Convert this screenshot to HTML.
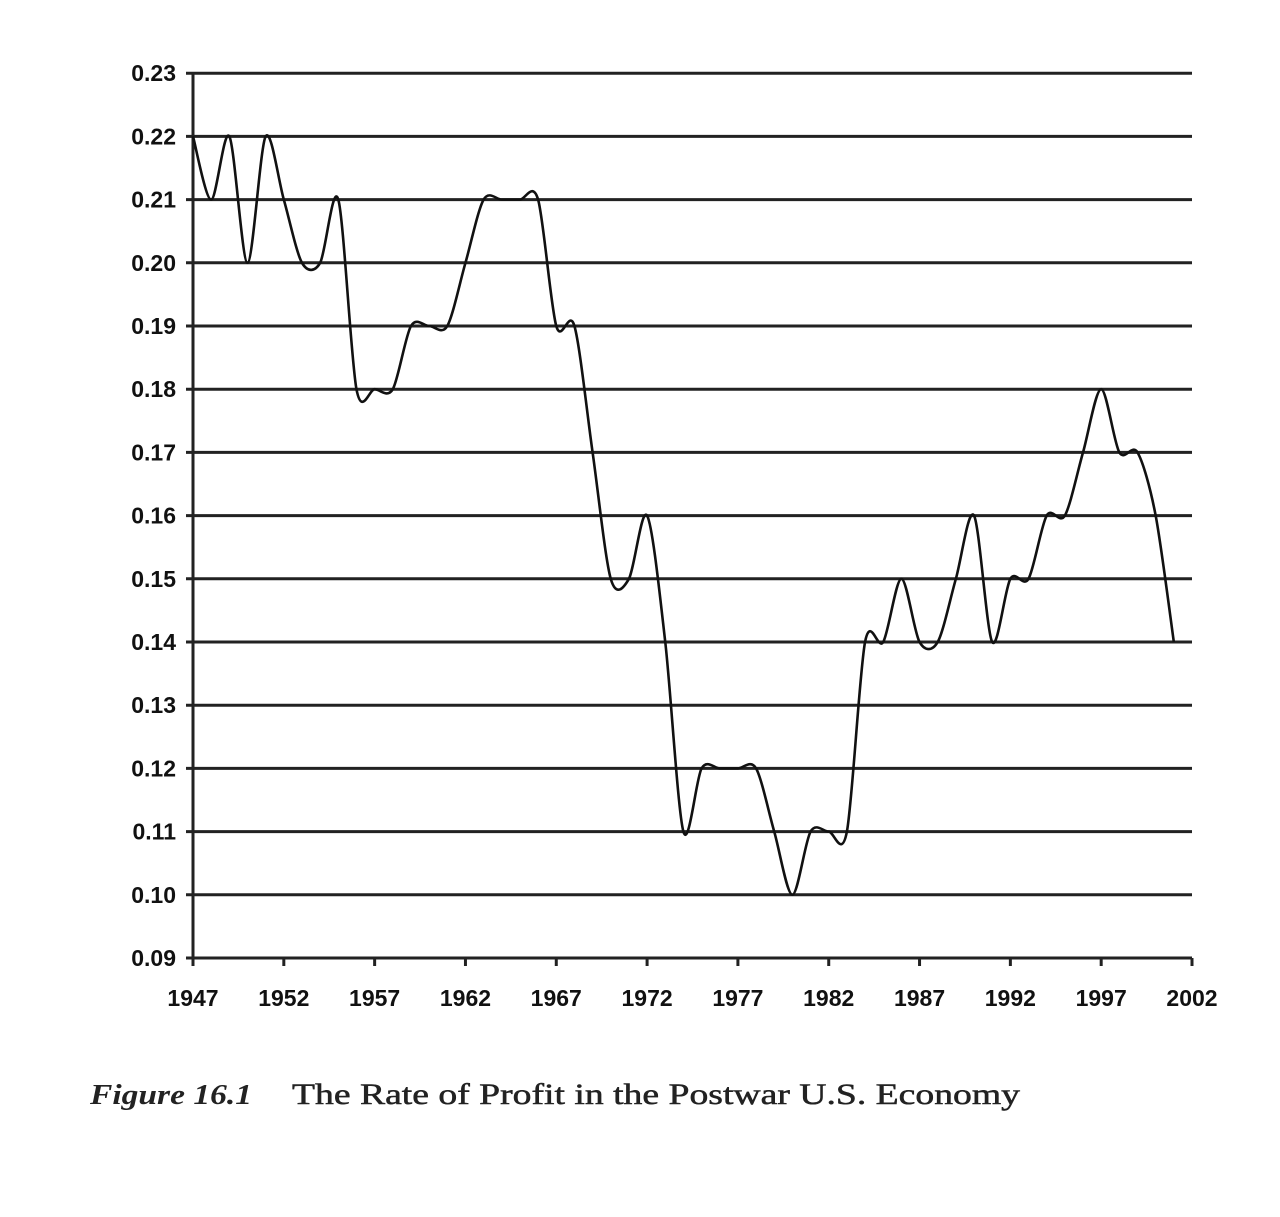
<!DOCTYPE html>
<html><head><meta charset="utf-8"><style>
html,body{margin:0;padding:0;background:#fff;}
svg{display:block}
</style></head><body>
<svg id="s" width="1280" height="1217" xmlns="http://www.w3.org/2000/svg">
<g id="grid" stroke="#222" stroke-width="3"></g>
<g id="ylab" font-family="Liberation Sans, sans-serif" font-size="23" font-weight="bold" fill="#111" text-anchor="end"></g>
<g id="xlab" font-family="Liberation Sans, sans-serif" font-size="23" font-weight="bold" fill="#111" text-anchor="middle"></g>
<path id="line" fill="none" stroke="#111" stroke-width="2.6"/>
<text x="90" y="1104" font-family="Liberation Serif, serif" font-size="28" font-style="italic" font-weight="bold" fill="#222" textLength="162" lengthAdjust="spacingAndGlyphs">Figure 16.1</text>
<text x="292" y="1104" font-family="Liberation Serif, serif" font-size="30" fill="#222" stroke="#222" stroke-width="0.5" textLength="728" lengthAdjust="spacingAndGlyphs">The Rate of Profit in the Postwar U.S. Economy</text>
</svg>
<script>
var ns="http://www.w3.org/2000/svg";
function yv(v){return 958-(v-0.09)/0.01*63.2;}
function xv(yr){return 193+(yr-1947)*(999/55);}
var g=document.getElementById('grid'),yl=document.getElementById('ylab'),xl=document.getElementById('xlab');
function el(p,t,a){var e=document.createElementNS(ns,t);for(var k in a)e.setAttribute(k,a[k]);p.appendChild(e);return e;}
for(var i=0;i<=14;i++){var v=0.09+i*0.01,y=yv(v);
 el(g,'line',{x1:186,x2:1192,y1:y,y2:y});
 var t=el(yl,'text',{x:176,y:y+8});t.textContent=v.toFixed(2);}
el(g,'line',{x1:193,x2:193,y1:73,y2:958});
el(g,'line',{x1:1192,x2:1192,y1:958,y2:966});
for(var yr=1947;yr<=2002;yr+=5){var x=xv(yr);el(g,'line',{x1:x,x2:x,y1:958,y2:966});
 var t=el(xl,'text',{x:x,y:1006});t.textContent=yr;}
var d=[.22,.21,.22,.20,.22,.21,.20,.20,.21,.18,.18,.18,.19,.19,.19,.20,.21,.21,.21,.21,.19,.19,.17,.15,.15,.16,.14,.11,.12,.12,.12,.12,.11,.10,.11,.11,.11,.14,.14,.15,.14,.14,.15,.16,.14,.15,.15,.16,.16,.17,.18,.17,.17,.16,.14];
var P=d.map(function(v,i){return [xv(1947+i),yv(v)];});
var s="M"+P[0][0]+","+P[0][1],k=0.15;
for(var i=0;i<P.length-1;i++){var p0=P[Math.max(i-1,0)],p1=P[i],p2=P[i+1],p3=P[Math.min(i+2,P.length-1)];
 s+=" C"+(p1[0]+(p2[0]-p0[0])*k)+","+(p1[1]+(p2[1]-p0[1])*k)+" "+(p2[0]-(p3[0]-p1[0])*k)+","+(p2[1]-(p3[1]-p1[1])*k)+" "+p2[0]+","+p2[1];}
document.getElementById('line').setAttribute('d',s);
</script>
</body></html>
